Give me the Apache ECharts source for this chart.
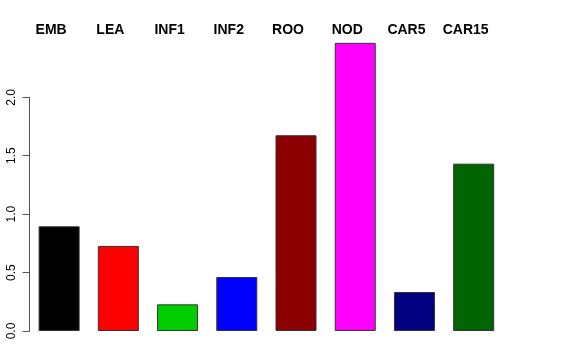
<!DOCTYPE html>
<html>
<head>
<meta charset="utf-8">
<script src="https://cdn.jsdelivr.net/npm/echarts@6/dist/echarts.min.js"></script>
<style>html,body{margin:0;padding:0;background:#fff}#c{width:576px;height:360px}</style>
</head>
<body>
<div id="c"></div>
<script>
var categories = ['EMB', 'LEA', 'INF1', 'INF2', 'ROO', 'NOD', 'CAR5', 'CAR15'];
var values = [0.896, 0.728, 0.228, 0.462, 1.675, 2.466, 0.334, 1.432];
var barColors = ['#000000', '#FF0000', '#00CD00', '#0000FF', '#8B0000', '#FF00FF', '#000080', '#006400'];
var yTicks = [0, 0.5, 1.0, 1.5, 2.0];

var chart = echarts.init(document.getElementById('c'), null, {renderer: 'canvas'});
chart.setOption({
  animation: false,
  backgroundColor: '#ffffff',
  grid: {left: 29.5, right: 72.7, top: 97.3, bottom: 29},
  xAxis: {
    type: 'category',
    data: categories,
    position: 'top',
    axisLine: {show: false},
    axisTick: {show: false},
    axisLabel: {
      interval: 0,
      hideOverlap: false,
      margin: 60,
      fontFamily: 'Liberation Sans, Arial, sans-serif',
      fontWeight: 'bold',
      fontSize: 14,
      color: '#000',
      padding: [0, 16, 0, 0]
    }
  },
  yAxis: {
    type: 'value',
    min: yTicks[0],
    max: yTicks[yTicks.length - 1],
    interval: 0.5,
    splitLine: {show: false},
    axisLine: {show: true, lineStyle: {color: '#555', width: 1}},
    axisTick: {show: true, length: 7, lineStyle: {color: '#555', width: 1}},
    axisLabel: {
      rotate: 90,
      margin: 12,
      fontFamily: 'Liberation Sans, Arial, sans-serif',
      fontSize: 12,
      color: '#000',
      formatter: function (v) { return v.toFixed(1); }
    }
  },
  series: [{
    type: 'bar',
    clip: false,
    barWidth: 41,
    data: values.map(function (v, i) {
      return {value: v, itemStyle: {color: barColors[i]}};
    }),
    itemStyle: {borderColor: '#333', borderWidth: 1}
  }]
});
</script>
</body>
</html>
